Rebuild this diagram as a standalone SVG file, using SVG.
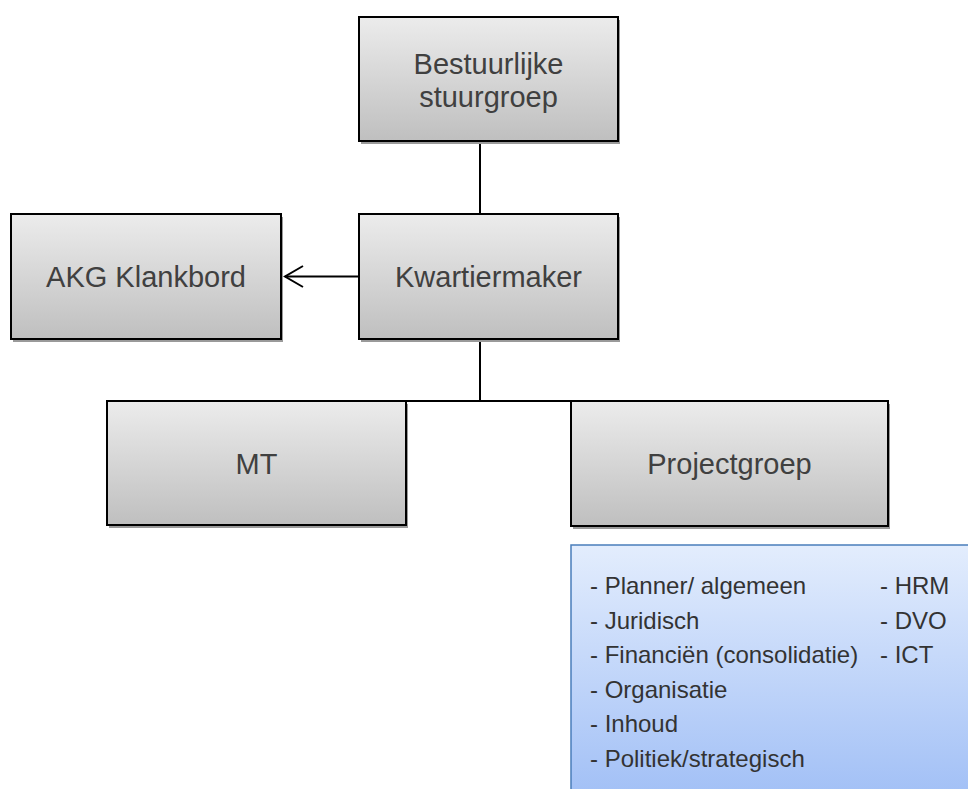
<svg xmlns="http://www.w3.org/2000/svg" width="968" height="789" viewBox="0 0 968 789">
<defs>
<linearGradient id="g" x1="0" y1="0" x2="0" y2="1"><stop offset="0" stop-color="#ececec"/><stop offset="1" stop-color="#bfbfbf"/></linearGradient>
<linearGradient id="b" x1="0" y1="0" x2="0" y2="1"><stop offset="0" stop-color="#e3edfd"/><stop offset="1" stop-color="#a2c0f6"/></linearGradient>
</defs>
<style>
.sh{fill:#9a9a9a}
.bx{fill:url(#g);stroke:#000;stroke-width:2}
.t{font-family:"Liberation Sans",Arial,sans-serif;font-size:29px;fill:#404040;text-anchor:middle}
.l{font-family:"Liberation Sans",Arial,sans-serif;font-size:24px;fill:#333}
.c{stroke:#000;stroke-width:2;fill:none}
</style>
<rect x="0" y="0" width="968" height="789" fill="#fff"/>
<g id="connectors">
<line class="c" x1="480" y1="141" x2="480" y2="214"/>
<line class="c" x1="480" y1="339" x2="480" y2="401"/>
<line class="c" x1="406" y1="401" x2="571" y2="401"/>
<line class="c" x1="359" y1="276.5" x2="285" y2="276.5"/>
<polyline class="c" points="303,266 285,276.5 303,287"/>
</g>
<g id="bestuurlijke">
<rect class="sh" x="361" y="20" width="259" height="124"/>
<rect class="bx" x="359" y="17" width="259" height="124"/>
<text class="t" x="488.5" y="74">Bestuurlijke</text>
<text class="t" x="488.5" y="107">stuurgroep</text>
</g>
<g id="akg">
<rect class="sh" x="13" y="217" width="270" height="125"/>
<rect class="bx" x="11" y="214" width="270" height="125"/>
<text class="t" x="146" y="287">AKG Klankbord</text>
</g>
<g id="kwartiermaker">
<rect class="sh" x="361" y="217" width="259" height="125"/>
<rect class="bx" x="359" y="214" width="259" height="125"/>
<text class="t" x="488.5" y="287">Kwartiermaker</text>
</g>
<g id="mt">
<rect class="sh" x="109" y="404" width="299" height="124"/>
<rect class="bx" x="107" y="401" width="299" height="124"/>
<text class="t" x="256.5" y="474">MT</text>
</g>
<g id="projectgroep">
<rect class="sh" x="573" y="404" width="317" height="125"/>
<rect class="bx" x="571" y="401" width="317" height="125"/>
<text class="t" x="729.5" y="474">Projectgroep</text>
</g>
<g id="leden">
<rect x="571" y="545" width="398" height="250" fill="url(#b)" stroke="#4a7ebb" stroke-width="1.5"/>
<text class="l" x="590" y="594">- Planner/ algemeen</text>
<text class="l" x="590" y="628.5">- Juridisch</text>
<text class="l" x="590" y="663">- Financiën (consolidatie)</text>
<text class="l" x="590" y="697.5">- Organisatie</text>
<text class="l" x="590" y="732">- Inhoud</text>
<text class="l" x="590" y="766.5">- Politiek/strategisch</text>
<text class="l" x="880" y="594">- HRM</text>
<text class="l" x="880" y="628.5">- DVO</text>
<text class="l" x="880" y="663">- ICT</text>
</g>
</svg>
